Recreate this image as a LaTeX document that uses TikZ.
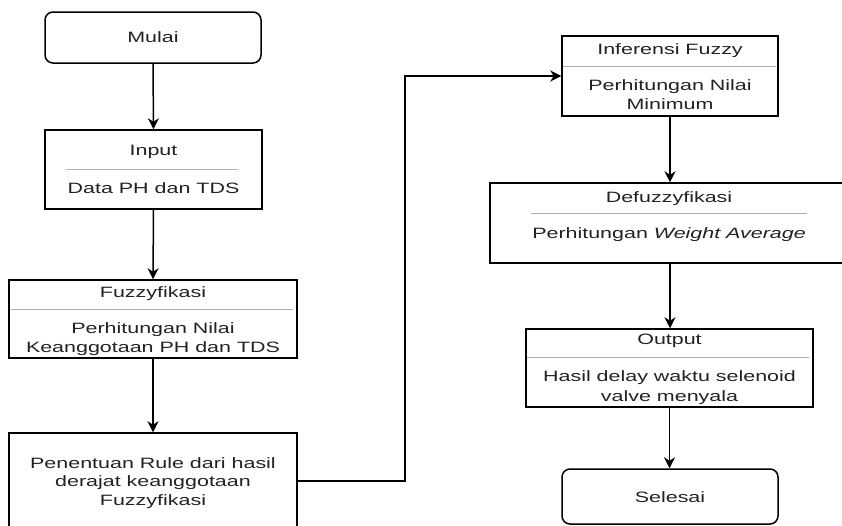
\documentclass[tikz,border=0pt]{standalone}
\usepackage{fontspec}
\setmainfont[FakeStretch=1.43]{Liberation Sans}
\usetikzlibrary{arrows.meta}
\definecolor{txt}{HTML}{222222}
\definecolor{sep}{HTML}{B0B0B0}
\tikzset{
  box/.style={draw=black, line width=1.5pt, fill=white, inner sep=0pt, minimum width=#1},
  roundbox/.style={box=#1, rounded corners=8pt},
  lbl/.style={anchor=base, inner sep=0pt, text=txt, font=\fontsize{15}{19}\selectfont},
  sepline/.style={draw=sep, line width=1pt},
  conn/.style={draw=black, line width=1.5pt, -{Stealth[length=11pt,width=11pt,inset=3.5pt]}}
}
\begin{document}
\begin{tikzpicture}[x=1pt,y=-1pt]
\useasboundingbox (0,0) rectangle (842,525);

% boxes
\node[roundbox=216pt, minimum height=51pt] (mulai) at (153,37.5) {};
\node[box=217pt, minimum height=79pt] (input) at (153.5,169.5) {};
\node[box=288pt, minimum height=78pt] (fuzzy) at (153,319) {};
\node[box=288pt, minimum height=96pt] (rule) at (153,481) {};
\node[box=216pt, minimum height=80pt] (infer) at (670,76) {};
\node[box=360pt, minimum height=80pt] (defuzzy) at (670,223) {};
\node[box=287pt, minimum height=78pt] (output) at (669.5,368) {};
\node[roundbox=216pt, minimum height=55pt] (selesai) at (670,496.5) {};

% separators
\draw[sepline] (66,169) coordinate (s1a) -- (238,169) coordinate (s1b);
\draw[sepline] (11,309) coordinate (s2a) -- (293,309) coordinate (s2b);
\draw[sepline] (563,66) coordinate (s3a) -- (776,66) coordinate (s3b);
\draw[sepline] (531,213) coordinate (s4a) -- (807,213) coordinate (s4b);
\draw[sepline] (527,357) coordinate (s5a) -- (809,357) coordinate (s5b);

% texts
\node[lbl] (tmulai) at (153,42.5) {Mulai};
\node[lbl] (tin1) at (153.5,155) {Input};
\node[lbl] (tin2) at (153.5,193) {Data PH dan TDS};
\node[lbl] (tfz1) at (153,297) {Fuzzyfikasi};
\node[lbl] (tfz2) at (153,333) {Perhitungan Nilai};
\node[lbl] (tfz3) at (153,352) {Keanggotaan PH dan TDS};
\node[lbl] (tr1) at (153,468) {Penentuan Rule dari hasil};
\node[lbl] (tr2) at (153,486) {derajat keanggotaan};
\node[lbl] (tr3) at (153,505) {Fuzzyfikasi};
\node[lbl] (tif1) at (670,54) {Inferensi Fuzzy};
\node[lbl] (tif2) at (670,90) {Perhitungan Nilai};
\node[lbl] (tif3) at (670,109) {Minimum};
\node[lbl] (tdf1) at (669,202) {Defuzzyfikasi};
\node[lbl] (tdf2) at (669,238) {Perhitungan \textit{Weight Average}};
\node[lbl] (tout1) at (669.5,344) {Output};
\node[lbl] (tout2) at (669.5,381) {Hasil delay waktu selenoid};
\node[lbl] (tout3) at (669.5,401) {valve menyala};
\node[lbl] (tsel) at (670,502) {Selesai};

% connectors
\draw[conn] (mulai.south) -- (input.north);
\draw[conn] (input.south) -- (fuzzy.north);
\draw[conn] (fuzzy.south) -- (rule.north);
\draw[conn] (rule.east) -- ++(107,0) |- (infer.west);
\draw[conn] (infer.south) -- (defuzzy.north);
\draw[conn] (defuzzy.south) -- (defuzzy.south |- output.north);
\draw[conn] (output.south) -- (output.south |- selesai.north);
\end{tikzpicture}
\end{document}
